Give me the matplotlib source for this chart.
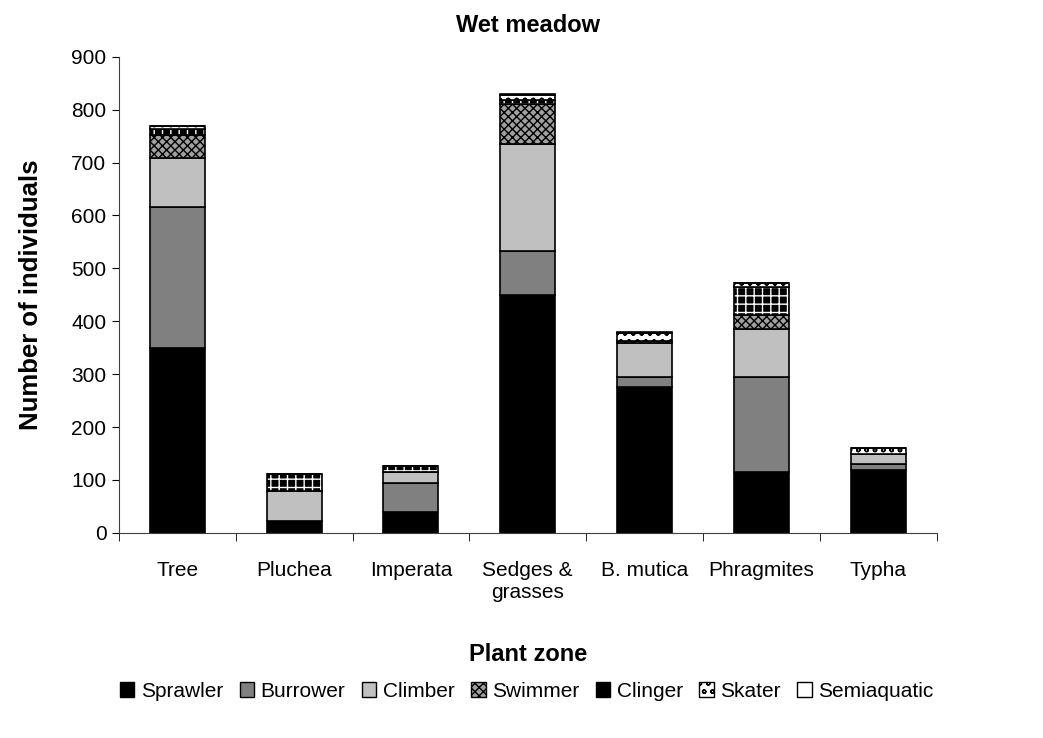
import matplotlib
matplotlib.use("Agg")
import matplotlib.pyplot as plt
import numpy as np
from matplotlib.patches import Patch

plt.rcParams['font.family'] = ['Liberation Sans', 'DejaVu Sans']
plt.rcParams['hatch.linewidth'] = 1.0

categories = ["Tree", "Pluchea", "Imperata", "Sedges &\ngrasses", "B. mutica", "Phragmites", "Typha"]
series_names = ["Sprawler", "Burrower", "Climber", "Swimmer", "Clinger", "Skater", "Semiaquatic"]
sprawler    = [350, 22, 40, 450, 275, 115, 118]
burrower    = [267, 0, 55, 82, 20, 180, 12]
climber     = [91, 57, 20, 203, 63, 90, 20]
swimmer     = [45, 0, 0, 75, 5, 27, 0]
clinger     = [10, 33, 12, 8, 0, 53, 0]
skater      = [7, 0, 0, 10, 15, 7, 10]
semiaquatic = [0, 0, 0, 2, 2, 0, 0]
series = [sprawler, burrower, climber, swimmer, clinger, skater, semiaquatic]

styles = [
    dict(face="#000000", hatch=None, hcol="black"),
    dict(face="#808080", hatch=None, hcol="black"),
    dict(face="#c0c0c0", hatch=None, hcol="black"),
    dict(face="#a0a0a0", hatch="xxxx", hcol="black"),
    dict(face="#000000", hatch="++", hcol="white"),
    dict(face="#ffffff", hatch="oo", hcol="black"),
    dict(face="#ffffff", hatch=None, hcol="black"),
]

fig = plt.figure(figsize=(10.43, 7.38), dpi=100)
ax = fig.add_axes([0.114, 0.278, 0.784, 0.645])

x = np.arange(len(categories))
width = 0.47
bottom = np.zeros(len(categories))
for vals, st in zip(series, styles):
    vals = np.array(vals, dtype=float)
    ax.bar(x, vals, width, bottom=bottom, color=st["face"], hatch=st["hatch"],
           edgecolor=st["hcol"], linewidth=0)
    ax.bar(x, vals, width, bottom=bottom, fill=False, edgecolor="black", linewidth=1.2)
    bottom += vals

ax.set_xlim(-0.5, len(categories) - 0.5)
ax.set_ylim(0, 900)
ax.set_yticks(range(0, 901, 100))
ax.set_xticks(x)
ax.set_xticklabels(categories, fontsize=15)
ax.tick_params(axis='x', length=0, pad=20)
ax.set_xticks(np.arange(-0.5, len(categories), 1), minor=True)
ax.tick_params(axis='x', which='minor', length=6, direction='out')
ax.tick_params(axis='y', labelsize=15, length=5, direction='out', pad=4)
for s in ['top', 'right']:
    ax.spines[s].set_visible(False)
ax.spines['left'].set_color('#404040')
ax.spines['bottom'].set_color('#404040')

ax.set_title("Wet meadow", fontsize=17, fontweight='bold', pad=18)
ax.set_ylabel("Number of individuals", fontsize=18.5, fontweight='bold', labelpad=20)
ax.set_xlabel("Plant zone", fontsize=17, fontweight='bold', labelpad=30)

handles = []
for name, st in zip(series_names, styles):
    handles.append(Patch(facecolor=st["face"], edgecolor="black", hatch=st["hatch"], linewidth=1, label=name))
fig.legend(handles=handles, loc='center', bbox_to_anchor=(0.505, 0.063), ncol=7, frameon=False,
           fontsize=15, handlelength=0.7, handleheight=0.7, handletextpad=0.3, columnspacing=0.8)

fig.savefig("out.png", dpi=100)
